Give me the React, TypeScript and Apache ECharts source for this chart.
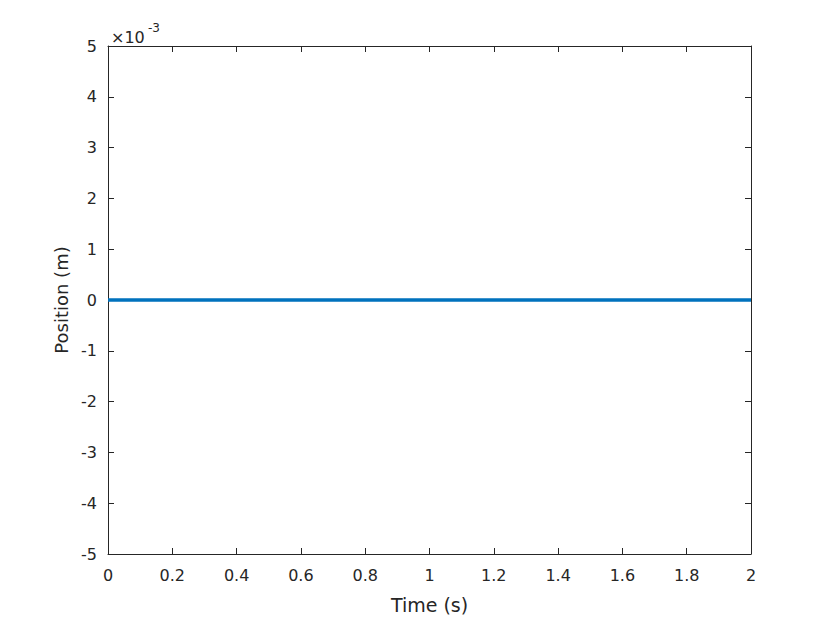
import React, { useEffect, useRef } from "react";
import * as echarts from "echarts";

const timeS = [0, 0.25, 0.5, 0.75, 1, 1.25, 1.5, 1.75, 2];
const positionM = [0, 0, 0, 0, 0, 0, 0, 0, 0];
const xTicks = [0, 0.2, 0.4, 0.6, 0.8, 1, 1.2, 1.4, 1.6, 1.8, 2];
const yScaleExp = -3;

const FONT = "'DejaVu Sans', 'Liberation Sans', Arial, sans-serif";
const AX = "#262626";

export default function App() {
  const ref = useRef<HTMLDivElement>(null);
  useEffect(() => {
    if (!ref.current) return;
    const chart = echarts.init(ref.current, null, { renderer: "svg" });
    const scale = Math.pow(10, yScaleExp);
    const fmtX = (v: number) => String(Math.round(v * 10) / 10);
    const fmtY = (v: number) => String(Math.round(v / scale));
    const axisLine = { show: true, onZero: false, lineStyle: { color: AX, width: 1 } };
    const axisTick = { show: true, inside: true, length: 6, lineStyle: { color: AX, width: 1 } };
    const xMin = xTicks[0];
    const xMax = xTicks[xTicks.length - 1];
    chart.setOption({
      animation: false,
      backgroundColor: "#ffffff",
      grid: { left: 108, right: 79, top: 46, bottom: 69, containLabel: false },
      xAxis: [
        {
          type: "value",
          min: xMin,
          max: xMax,
          interval: 0.2,
          position: "bottom",
          name: "Time (s)",
          nameLocation: "middle",
          nameGap: 41,
          nameTextStyle: { fontFamily: FONT, fontSize: 19, color: AX },
          axisLine,
          axisTick,
          axisLabel: { formatter: fmtX, fontFamily: FONT, fontSize: 16, color: AX, margin: 13 },
          splitLine: { show: false },
        },
        {
          type: "value",
          min: xMin,
          max: xMax,
          interval: 0.2,
          position: "top",
          axisLine,
          axisTick,
          axisLabel: { show: false },
          splitLine: { show: false },
        },
      ],
      yAxis: [
        {
          type: "value",
          min: -5 * scale,
          max: 5 * scale,
          interval: scale,
          position: "left",
          name: "Position (m)",
          nameLocation: "middle",
          nameGap: 34,
          nameTextStyle: { fontFamily: FONT, fontSize: 18, color: AX },
          axisLine,
          axisTick,
          axisLabel: { formatter: fmtY, fontFamily: FONT, fontSize: 16, color: AX, margin: 11 },
          splitLine: { show: false },
        },
        {
          type: "value",
          min: -5 * scale,
          max: 5 * scale,
          interval: scale,
          position: "right",
          axisLine,
          axisTick,
          axisLabel: { show: false },
          splitLine: { show: false },
        },
      ],
      graphic: [
        {
          type: "text",
          left: 111,
          top: 29,
          style: {
            text: "×10",
            fontFamily: FONT,
            fontSize: 16,
            fill: AX,
          },
        },
        {
          type: "text",
          left: 148,
          top: 22,
          style: {
            text: String(yScaleExp),
            fontFamily: FONT,
            fontSize: 12,
            fill: AX,
          },
        },
      ],
      series: [
        {
          type: "line",
          data: timeS.map((t, i) => [t, positionM[i]]),
          showSymbol: false,
          lineStyle: { color: "#0072BD", width: 3.5 },
          xAxisIndex: 0,
          yAxisIndex: 0,
        },
      ],
    });
    return () => chart.dispose();
  }, []);
  return (
    <div
      ref={ref}
      style={{ position: "absolute", left: 0, top: 0, width: 830, height: 623 }}
    />
  );
}
